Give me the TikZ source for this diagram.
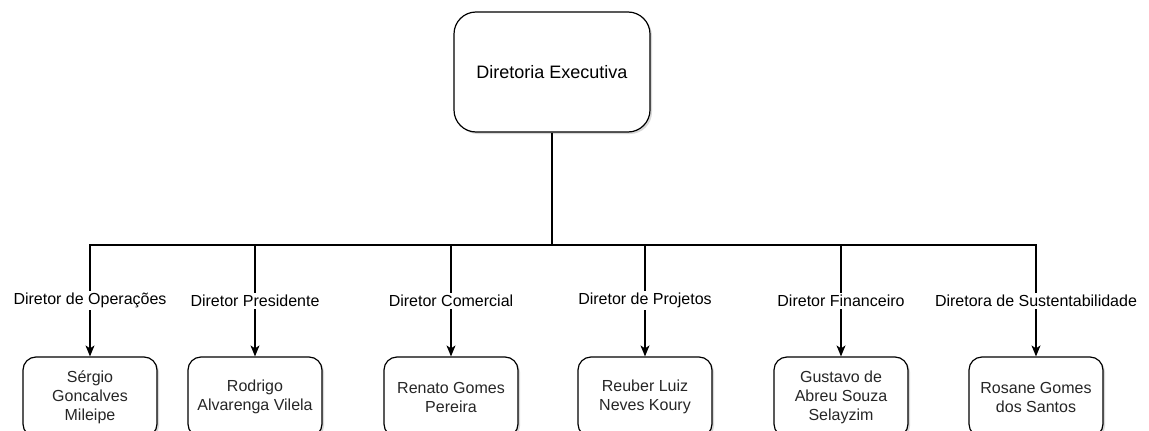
\documentclass[tikz,border=0pt]{standalone}
\usepackage{fontspec}
\setmainfont{Liberation Sans}
\usetikzlibrary{arrows.meta,shadows,positioning}

\begin{document}
\begin{tikzpicture}[x=1pt, y=-1pt, line width=1.2pt,
    every node/.style={font=\fontsize{16}{19}\selectfont, align=center},
    topbox/.style={draw, rounded corners=22pt, fill=white, minimum width=196pt, minimum height=120pt,
      drop shadow={shadow xshift=2pt, shadow yshift=-2pt, opacity=0.3}, font=\fontsize{18}{21}\selectfont},
    person/.style={draw, rounded corners=13pt, fill=white, minimum width=134pt, minimum height=80pt,
      text=black!85, drop shadow={shadow xshift=2pt, shadow yshift=-2pt, opacity=0.3}},
    role/.style={fill=white, inner sep=2pt, pos=0.75},
    link/.style={-{Stealth[length=11pt, width=9pt, inset=3pt]}}]
    \clip (0,0) rectangle (1149,431);

    \node[topbox] (exec) at (552,72) {Diretoria Executiva};
    \coordinate (bus) at (552,245);

    \node[person] (sergio)  at (90,397)   {Sérgio\\Goncalves\\Mileipe};
    \node[person] (rodrigo) at (255,397)  {Rodrigo\\Alvarenga Vilela};
    \node[person] (renato)  at (451,397)  {Renato Gomes\\Pereira};
    \node[person] (reuber)  at (645,397)  {Reuber Luiz\\Neves Koury};
    \node[person] (gustavo) at (841,397)  {Gustavo de\\Abreu Souza\\Selayzim};
    \node[person] (rosane)  at (1036,397) {Rosane Gomes\\dos Santos};

    \draw (exec) -- (bus);
    \draw[link] (bus) -| node[role] {Diretor de Operações} (sergio);
    \draw[link] (bus) -| node[role] {Diretor Presidente} (rodrigo);
    \draw[link] (bus) -| node[role] {Diretor Comercial} (renato);
    \draw[link] (bus) -| node[role] {Diretor de Projetos} (reuber);
    \draw[link] (bus) -| node[role] {Diretor Financeiro} (gustavo);
    \draw[link] (bus) -| node[role] {Diretora de Sustentabilidade} (rosane);

\end{tikzpicture}
\end{document}
